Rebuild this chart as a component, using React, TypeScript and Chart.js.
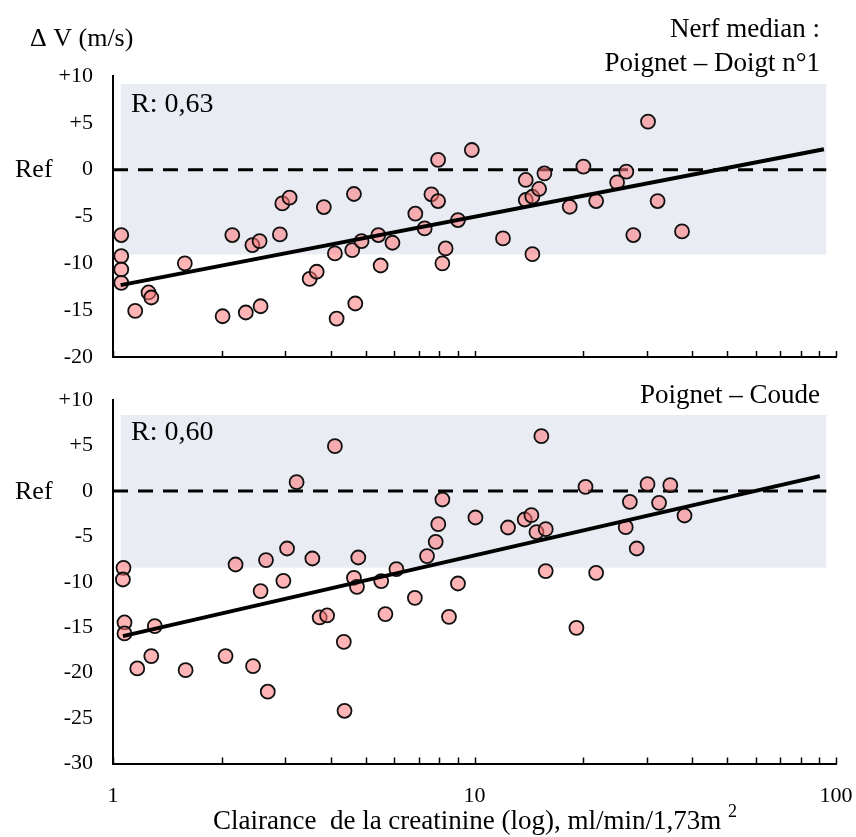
import React, { useEffect, useRef } from 'react';
import { Chart, registerables } from 'chart.js';
Chart.register(...registerables);

const FONT = '"Liberation Serif", "Times New Roman", serif';

// Top panel: Poignet – Doigt n°1
const xTop = [1.054, 1.054, 1.054, 1.054, 1.152, 1.254, 1.276, 1.58, 2.01, 2.138, 2.33, 2.43, 2.544, 2.56, 2.895, 2.94, 3.08, 3.5, 3.66, 3.83, 4.11, 4.155, 4.59, 4.64, 4.68, 4.87, 5.42, 5.5, 5.93, 6.86, 7.28, 7.6, 7.93, 7.93, 8.32, 8.15, 9.0, 9.83, 11.99, 13.86, 13.86, 14.46, 14.46, 15.09, 15.61, 18.34, 20.01, 21.7, 24.8, 26.3, 27.5, 30.2, 32.1, 37.5];
const yTop = [-6.98, -9.23, -10.66, -12.08, -15.08, -13.11, -13.65, -10.0, -15.65, -6.98, -15.25, -8.05, -7.63, -14.58, -6.91, -3.6, -2.99, -11.66, -10.9, -3.99, -8.94, -15.9, -8.59, -2.6, -14.29, -7.63, -6.98, -10.23, -7.8, -4.7, -6.27, -2.63, -3.35, 1.04, -8.41, -10.0, -5.38, 2.1, -7.34, -1.1, -3.24, -2.89, -9.02, -2.06, -0.39, -3.96, 0.32, -3.35, -1.35, -0.21, -6.98, 5.13, -3.35, -6.59];
const fitTopX = [1.05, 92.6];
const fitTopY = [-12.33, 2.18];
const bandTopX = [1.05, 94];
const bandTopY = [-9.05, 9.15];

// Bottom panel: Poignet – Coude
const xBot = [1.069, 1.065, 1.076, 1.076, 1.167, 1.276, 1.305, 1.588, 2.048, 2.183, 2.44, 2.56, 2.65, 2.68, 2.96, 3.03, 3.22, 3.56, 3.73, 3.91, 4.11, 4.35, 4.37, 4.64, 4.73, 4.77, 5.52, 5.67, 6.08, 6.84, 7.39, 7.81, 7.94, 8.15, 8.5, 9.0, 10.06, 12.38, 13.77, 14.37, 14.84, 15.31, 15.74, 15.74, 19.14, 20.28, 21.7, 26.2, 26.9, 28.1, 30.1, 32.4, 34.8, 38.1];
const yBot = [-8.47, -9.75, -14.48, -15.69, -19.54, -18.18, -14.88, -19.73, -18.18, -8.1, -19.29, -11.03, -7.62, -22.1, -9.9, -6.34, 0.96, -7.44, -13.93, -13.71, 4.92, -16.61, -24.2, -9.57, -10.56, -7.33, -9.93, -13.56, -8.61, -11.77, -7.18, -5.61, -3.66, -0.95, -13.86, -10.19, -2.93, -4.03, -3.15, -2.67, -4.54, 6.02, -4.21, -8.83, -15.07, 0.44, -9.02, -3.99, -1.21, -6.34, 0.74, -1.32, 0.63, -2.71];
const fitBotX = [1.065, 90.2];
const fitBotY = [-15.98, 1.62];
const bandBotX = [1.05, 94];
const bandBotY = [-8.45, 8.35];

const refX = [1, 94];
const refY = [0, 0];

const xTickValues = [1, 2, 3, 4, 5, 6, 7, 8, 9, 10, 20, 30, 40, 50, 60, 70, 80, 90, 100];
const xLabelValues = [1, 10, 100];

const POINT_FILL = 'rgba(255,120,120,0.55)';
const BAND = '#e9ecf3';

type PanelOpts = {
  xs: number[]; ys: number[]; fitX: number[]; fitY: number[];
  bandX: number[]; bandY: number[]; yMin: number; yMax: number;
  padTop: number; xHeight: number; showXLabels: boolean;
  texts: (ctx: CanvasRenderingContext2D, chart: any) => void;
};

function build(canvas: HTMLCanvasElement, o: PanelOpts) {
  const pts = o.xs.map((x, i) => ({ x, y: o.ys[i] }));
  const fit = o.fitX.map((x, i) => ({ x, y: o.fitY[i] }));
  const ref = refX.map((x, i) => ({ x, y: refY[i] }));
  const bandPlugin = {
    id: 'band',
    beforeDatasetsDraw(chart: any) {
      const { ctx, scales } = chart;
      const x0 = scales.x.getPixelForValue(o.bandX[0]);
      const x1 = scales.x.getPixelForValue(o.bandX[1]);
      const y0 = scales.y.getPixelForValue(o.bandY[1]);
      const y1 = scales.y.getPixelForValue(o.bandY[0]);
      ctx.save();
      ctx.fillStyle = BAND;
      ctx.fillRect(x0, y0, x1 - x0, y1 - y0);
      ctx.restore();
    },
    afterDraw(chart: any) {
      const { ctx, scales, chartArea } = chart;
      ctx.save();
      ctx.strokeStyle = '#000';
      ctx.lineWidth = 1.5;
      for (const v of xTickValues) {
        const px = Math.round(scales.x.getPixelForValue(v)) + 0.5;
        ctx.beginPath();
        ctx.moveTo(px, chartArea.bottom);
        ctx.lineTo(px, chartArea.bottom - 6);
        ctx.stroke();
      }
      ctx.fillStyle = '#000';
      o.texts(ctx, chart);
      ctx.restore();
    },
  };
  return new Chart(canvas, {
    type: 'scatter',
    data: {
      datasets: [
        { type: 'line', data: fit, borderColor: '#000', borderWidth: 4, pointRadius: 0, order: 0, tension: 0 } as any,
        { data: pts, backgroundColor: POINT_FILL, borderColor: '#111', borderWidth: 1.8, pointRadius: 7, order: 1 },
        { type: 'line', data: ref, borderColor: '#000', borderWidth: 3, borderDash: [15, 10], pointRadius: 0, order: 2, clip: false } as any,
      ],
    },
    options: {
      responsive: false,
      animation: false,
      layout: { padding: { left: 0, right: 20, top: o.padTop, bottom: 0 } },
      plugins: { legend: { display: false }, tooltip: { enabled: false } },
      scales: {
        x: {
          type: 'logarithmic', min: 1, max: 100,
          grid: { display: false, drawTicks: false },
          border: { display: true, color: '#000', width: 2 },
          ticks: {
            display: o.showXLabels, autoSkip: false, maxRotation: 0, padding: 20,
            color: '#000', font: { family: FONT, size: 22 },
            callback: (v: any) => (xLabelValues.includes(Number(v)) ? String(v) : ''),
          },
          afterFit: (s: any) => { s.height = o.xHeight; s.paddingLeft = 0; s.paddingRight = 0; },
        },
        y: {
          min: o.yMin, max: o.yMax,
          grid: { display: false, drawTicks: false },
          border: { display: true, color: '#000', width: 2 },
          ticks: {
            stepSize: 5, padding: 20, color: '#000', font: { family: FONT, size: 22 },
            callback: (v: any) => (Number(v) > 0 ? '+' + v : String(v)),
          },
          afterFit: (s: any) => { s.width = 113; s.paddingTop = 0; s.paddingBottom = 0; },
        },
      },
    },
    plugins: [bandPlugin],
  });
}

export default function App() {
  const c1 = useRef<HTMLCanvasElement>(null);
  const c2 = useRef<HTMLCanvasElement>(null);
  useEffect(() => {
    document.body.style.margin = '0';
    const ch1 = build(c1.current!, {
      xs: xTop, ys: yTop, fitX: fitTopX, fitY: fitTopY, bandX: bandTopX, bandY: bandTopY,
      yMin: -20, yMax: 10, padTop: 76, xHeight: 23, showXLabels: false,
      texts: (ctx, chart) => {
        const y0 = chart.scales.y.getPixelForValue(0);
        ctx.font = `26px ${FONT}`;
        ctx.textAlign = 'left';
        ctx.textBaseline = 'alphabetic';
        ctx.fillText('\u0394 V (m/s)', 30, 46);
        ctx.font = `27px ${FONT}`;
        ctx.textAlign = 'right';
        ctx.fillText('Nerf median :', 820, 37);
        ctx.fillText('Poignet \u2013 Doigt n\u00b01', 820, 71);
        ctx.textAlign = 'left';
        ctx.font = `28px ${FONT}`;
        ctx.fillText('R: 0,63', 131, 112);
        ctx.font = `26px ${FONT}`;
        ctx.textBaseline = 'middle';
        ctx.fillText('Ref', 15, y0 + 1);
      },
    });
    const ch2 = build(c2.current!, {
      xs: xBot, ys: yBot, fitX: fitBotX, fitY: fitBotY, bandX: bandBotX, bandY: bandBotY,
      yMin: -30, yMax: 10, padTop: 20, xHeight: 73.5, showXLabels: true,
      texts: (ctx, chart) => {
        const y0 = chart.scales.y.getPixelForValue(0);
        ctx.textBaseline = 'alphabetic';
        ctx.font = `27px ${FONT}`;
        ctx.textAlign = 'right';
        ctx.fillText('Poignet \u2013 Coude', 820, 23);
        ctx.textAlign = 'left';
        ctx.font = `28px ${FONT}`;
        ctx.fillText('R: 0,60', 131, 60);
        ctx.font = `26px ${FONT}`;
        ctx.textBaseline = 'middle';
        ctx.fillText('Ref', 15, y0 + 1);
        ctx.textBaseline = 'alphabetic';
        const main = 'Clairance  de la creatinine (log), ml/min/1,73m ';
        ctx.font = `27px ${FONT}`;
        const w1 = ctx.measureText(main).width;
        ctx.font = `18px ${FONT}`;
        const w2 = ctx.measureText('2').width;
        const left = 475 - (w1 + w2) / 2;
        ctx.font = `27px ${FONT}`;
        ctx.fillText(main, left, 449);
        ctx.font = `18px ${FONT}`;
        ctx.fillText('2', left + w1, 437);
      },
    });
    return () => { ch1.destroy(); ch2.destroy(); };
  }, []);
  return (
    <div style={{ position: 'relative', width: 856, height: 837 }}>
      <canvas ref={c1} width={856} height={380} style={{ position: 'absolute', left: 0, top: 0 }} />
      <canvas ref={c2} width={856} height={457} style={{ position: 'absolute', left: 0, top: 380 }} />
    </div>
  );
}
